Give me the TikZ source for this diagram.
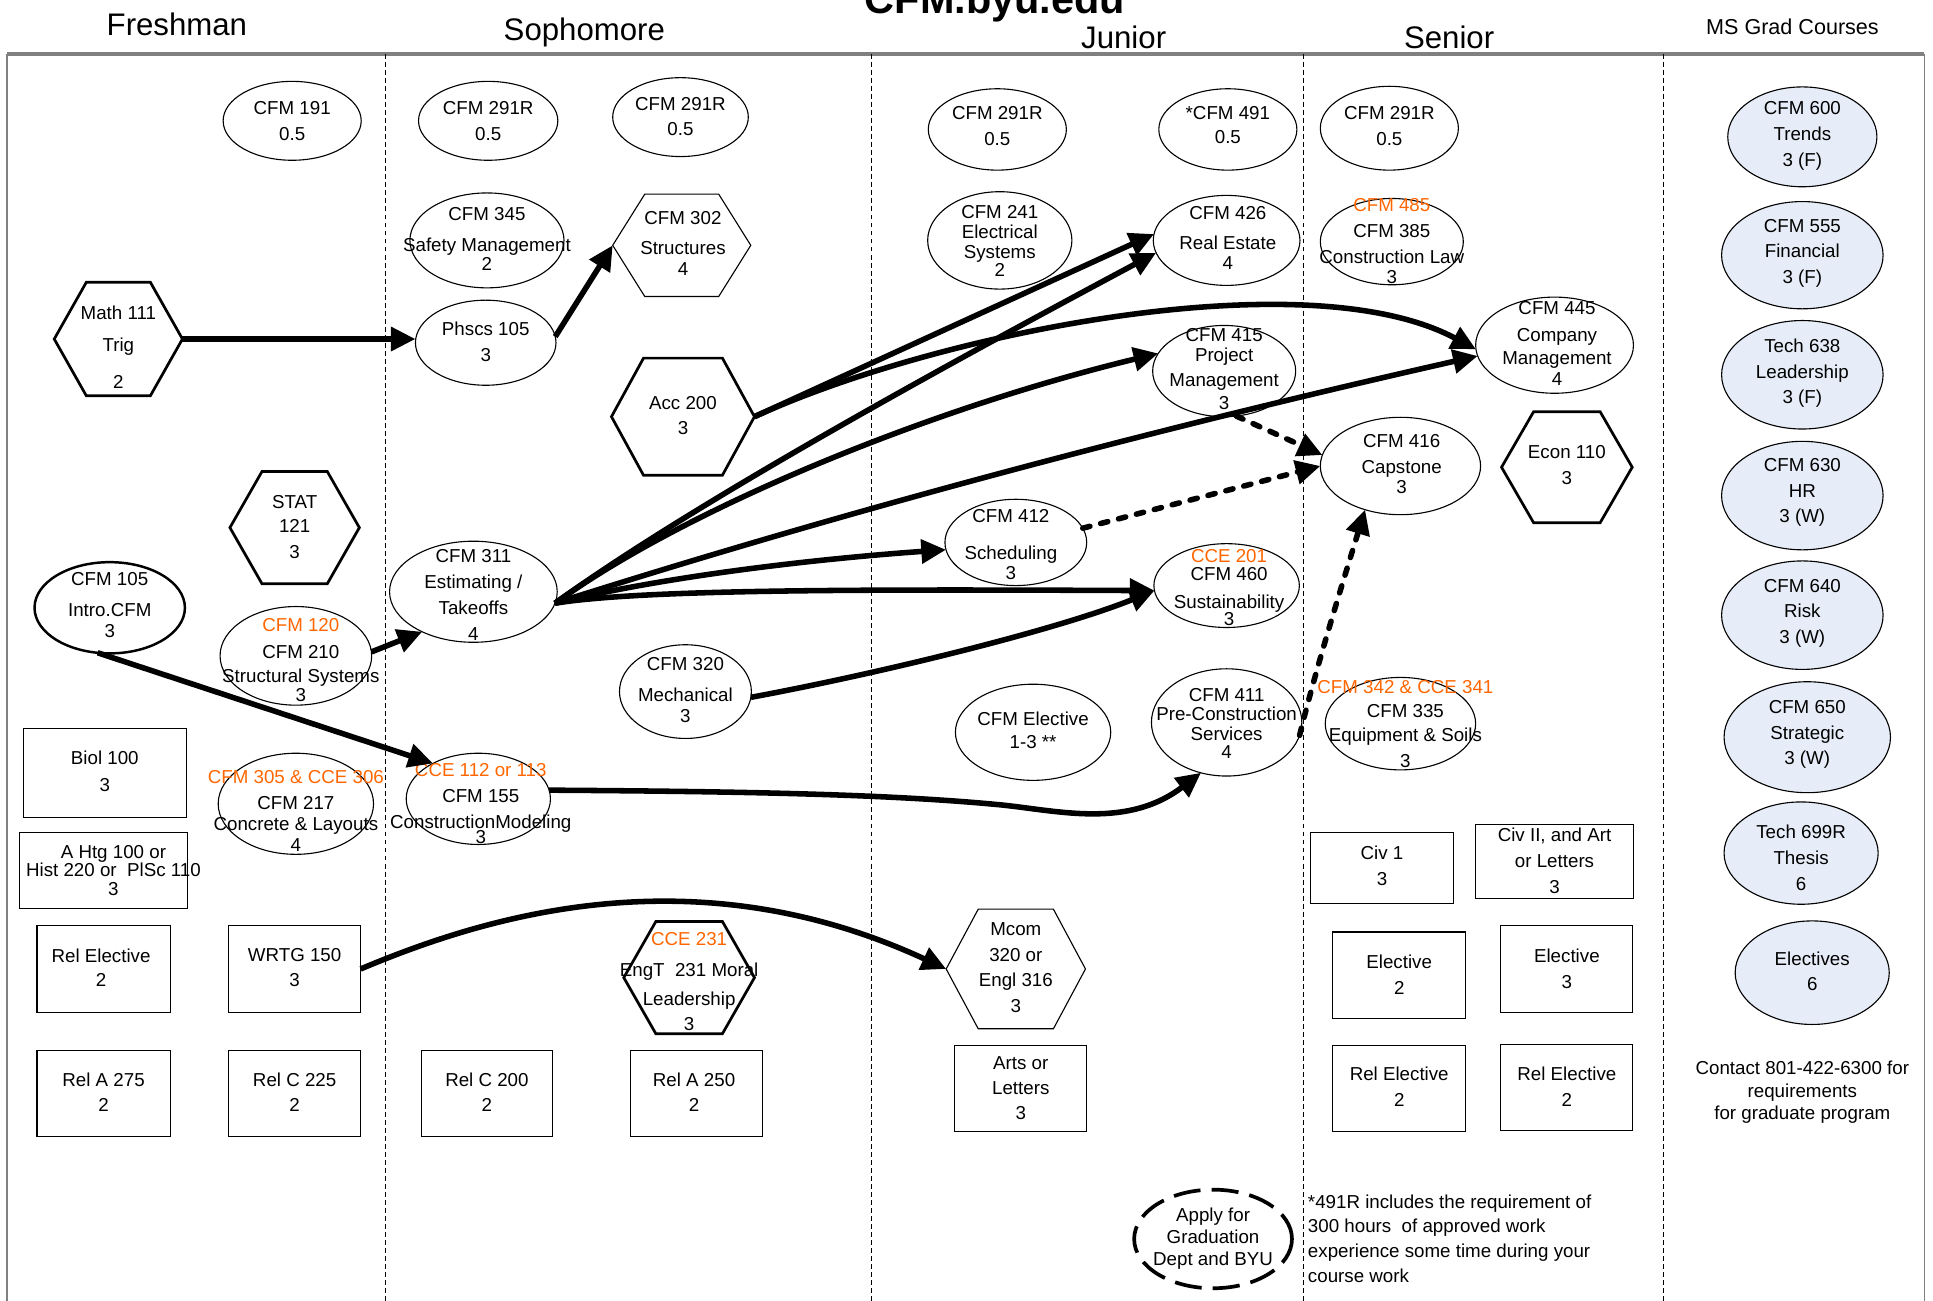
\documentclass[tikz,border=0pt]{standalone}
\usepackage{fontspec}
\setmainfont{Liberation Sans}
\usetikzlibrary{shapes.geometric,arrows.meta}
\definecolor{orng}{RGB}{255,102,0}
\definecolor{gradblue}{RGB}{231,237,248}
\definecolor{framegray}{RGB}{128,128,128}
\newcommand\orn[1]{\textcolor{orng}{#1}}
\newcommand\crsnode[8]{%
  \node[#1,minimum width=#5pt,minimum height=#6pt] (#2) at (#3,#4) {};
  \node[txt] (#2-t) at (#7) {#8};}
\newcommand\hexnode[8]{%
  \node[minimum width=#5pt,minimum height=#6pt] (#2) at (#3,#4) {};
  \draw[#1] (#2.west) -- ([xshift=26pt]#2.north west) -- ([xshift=-26pt]#2.north east) -- (#2.east) -- ([xshift=-26pt]#2.south east) -- ([xshift=26pt]#2.south west) -- cycle;
  \node[txt] (#2-t) at (#7) {#8};}
\tikzset{
  every node/.style={font=\fontsize{15.2}{20}\selectfont, inner sep=0pt, outer sep=0pt},
  txt/.style={align=center},
  ell/.style={ellipse, draw, line width=0.9pt},
  ellthick/.style={ellipse, draw, line width=2pt},
  elldash/.style={ellipse, draw, line width=3pt, dash pattern=on 22pt off 9pt},
  box/.style={rectangle, draw, line width=0.9pt},
  grad/.style={ellipse, draw, line width=0.9pt, fill=gradblue},
  hexthick/.style={line width=2.2pt, line join=miter},
  hexthin/.style={line width=0.9pt},
  hdr/.style={font=\fontsize{25.3}{30}\selectfont},
  arr/.style={line width=4.5pt, -{Triangle[length=20pt,width=19pt]}},
  darr/.style={line width=4.5pt, dash pattern=on 6pt off 9pt, line cap=round, -{Triangle[length=20pt,width=19pt]}},
  colsep/.style={line width=0.8pt, dash pattern=on 4pt off 2.5pt},
}
\begin{document}
\begin{tikzpicture}[x=1pt,y=-1pt]
\useasboundingbox (0,0) rectangle (1568,1055);
\clip (0,0) rectangle (1568,1055);
% title and headers
\node[font=\fontsize{33.6}{40}\selectfont\bfseries, anchor=base] (title) at (807,10.8) {CFM.byu.edu};
\node[hdr, anchor=base] (hfr) at (143.5,29) {Freshman};
\node[hdr, anchor=base] (hso) at (474,33) {Sophomore};
\node[hdr, anchor=base] (hju) at (911.5,39) {Junior};
\node[hdr, anchor=base] (hse) at (1175.5,39) {Senior};
\node[font=\fontsize{17.5}{20}\selectfont, anchor=base] (hms) at (1454,28) {MS Grad Courses};
% frame and separators
\draw[framegray, line width=3pt] (6,44) -- (1561,44);
\draw[framegray, line width=1.5pt] (6,44) -- (6,1060);
\draw[framegray, line width=1.2pt] (1561,44) -- (1561,1060);
\foreach \xx in {313,707,1057,1349} \draw[colsep] (\xx,44) -- (\xx,1060);
% Freshman
\crsnode{ell}{f191}{237}{98}{112}{64}{237,98}{CFM 191\\[1pt]0.5}
\hexnode{hexthick}{math}{96}{275}{104}{92}{96,282}{Math 111\\[6pt]Trig\\[10pt]2}
\hexnode{hexthick}{stat}{239}{428}{105}{91}{239,427.5}{STAT\\121\\[1pt]3}
\crsnode{ellthick}{c105}{89}{493}{122}{74}{89,491}{CFM 105\\[5pt]Intro.CFM\\[-3pt]3}
\crsnode{ell}{c210}{240}{532}{123}{80}{244,535.5}{\orn{CFM 120}\\[2pt]CFM 210\\[-1pt]Structural Systems\\[-4pt]3}
\crsnode{box}{biol}{85}{627}{132}{72}{85,626}{Biol 100\\[2pt]3}
\crsnode{ell}{c217}{240}{652}{126}{82}{240,657.5}{\orn{CFM 305 \& CCE 306}\\[1pt]CFM 217\\[-3pt]Concrete \& Layouts\\[-3pt]4}
\crsnode{box}{ahtg}{84}{706}{136}{62}{92,706}{A Htg 100 or\\[-5pt]Hist 220 or\ \ PlSc 110\\[-5pt]3}
\crsnode{box}{relel1}{84}{786}{108}{71}{82,785}{Rel Elective\\2}
\crsnode{box}{wrtg}{239}{786}{107}{71}{239,785}{WRTG 150\\3}
\crsnode{box}{rela275}{84}{887}{108}{70}{84,886}{Rel A 275\\2}
\crsnode{box}{relc225}{239}{887}{107}{70}{239,886}{Rel C 225\\2}
% Sophomore
\crsnode{ell}{s291a}{396}{98}{113}{64}{396,98}{CFM 291R\\[1pt]0.5}
\crsnode{ell}{s291b}{552}{95}{110}{64}{552,94.5}{CFM 291R\\[1pt]0.5}
\crsnode{ell}{c345}{395}{195}{125}{77}{395,194}{CFM 345\\[5pt]Safety Management\\[-4pt]2}
\hexnode{hexthin}{c302}{553}{199}{112}{83}{554,197.5}{CFM 302\\[4pt]Structures\\[-3pt]4}
\crsnode{ell}{phscs}{394}{278}{114}{69}{394,277}{Phscs 105\\[1pt]3}
\hexnode{hexthick}{acc}{554}{338}{116}{95}{554,337}{Acc 200\\3}
\crsnode{ell}{c311}{384}{480}{136}{82}{384,482.5}{CFM 311\\[1pt]Estimating /\\[1pt]Takeoffs\\[1pt]4}
\crsnode{ell}{c320}{556}{561}{107}{76}{556,560}{CFM 320\\[5pt]Mechanical\\[-3pt]3}
\crsnode{ell}{c155}{388}{648}{117}{74}{390,652}{\orn{CCE 112 or 113}\\[1pt]CFM 155\\[1pt]ConstructionModeling\\[-8pt]3}
\hexnode{hexthick}{c231}{559}{793}{106}{91}{559,796.5}{\orn{CCE 231}\\[5pt]EngT\ \ 231 Moral\\[3pt]Leadership\\[1pt]3}
\crsnode{box}{relc200}{395}{887}{106}{70}{395,886}{Rel C 200\\2}
\crsnode{box}{rela250}{565}{887}{107}{70}{563,886}{Rel A 250\\2}
% Junior
\crsnode{ell}{j291}{809}{105}{112}{66}{809,102.5}{CFM 291R\\[1pt]0.5}
\crsnode{ell}{c491}{996}{105}{112}{66}{996,101.5}{*CFM 491\\[-1pt]0.5}
\crsnode{ell}{c241}{811}{195}{117}{79}{811,195.5}{CFM 241\\[-4pt]Electrical\\[-4pt]Systems\\[-5pt]2}
\crsnode{ell}{c426}{995}{195}{119}{73}{996,193}{CFM 426\\[4pt]Real Estate\\[-4pt]4}
\crsnode{ell}{c415}{993}{301}{116}{74}{993,299.5}{CFM 415\\[-4pt]Project\\[0pt]Management\\[-1pt]3}
\crsnode{ell}{c412}{824}{440}{115}{70}{820,442}{CFM 412\\[10pt]Scheduling\\[-4pt]3}
\crsnode{ell}{c460}{995}{475}{118}{68}{997,476.5}{\orn{CCE 201}\\[-5pt]CFM 460\\[2pt]Sustainability\\[-6pt]3}
\crsnode{ell}{elect}{838}{594}{126}{78}{838,592.5}{CFM Elective\\[-1pt]1-3 **}
\crsnode{ell}{c411}{995}{586}{122}{87}{995,587}{CFM 411\\[-5pt]Pre-Construction\\[-4pt]Services\\[-5pt]4}
\hexnode{hexthin}{mcom}{824}{786}{113}{97}{824,785}{Mcom\\[1pt]320 or\\[0pt]Engl 316\\[1pt]3}
\crsnode{box}{arts}{828}{883}{107}{70}{828,882.5}{Arts or\\[1pt]Letters\\[0pt]3}
\crsnode{elldash}{apply}{984}{1005}{128}{80}{984,1005}{Apply for\\[-2pt]Graduation\\[-2pt]Dept and BYU}
% Senior
\crsnode{ell}{sr291}{1127}{104}{112}{68}{1127,102.5}{CFM 291R\\[1pt]0.5}
\crsnode{ell}{c385}{1129}{196}{116}{70}{1129,195.5}{\orn{CFM 485}\\[1pt]CFM 385\\[1pt]Construction Law\\[-4pt]3}
\crsnode{ell}{c445}{1261}{280}{128}{78}{1263,278.5}{CFM 445\\[2pt]Company\\[-2pt]Management\\[-3pt]4}
\crsnode{ell}{c416}{1136}{378}{130}{79}{1137,376.5}{CFM 416\\[1pt]Capstone\\[-4pt]3}
\hexnode{hexthick}{econ}{1271}{379}{106}{90}{1271,377.5}{Econ 110\\[1pt]3}
\crsnode{ell}{c335}{1136}{587}{122}{75}{1140,587}{\orn{CFM 342 \& CCE 341}\\[0pt]CFM 335\\[-1pt]Equipment \& Soils\\[1pt]3}
\crsnode{box}{civ1}{1121}{704}{116}{58}{1121,702.5}{Civ 1\\[1pt]3}
\crsnode{box}{civ2}{1261}{699}{128}{60}{1261,698}{Civ II, and Art\\[1pt]or Letters\\[1pt]3}
\crsnode{box}{el2}{1135}{791}{108}{70}{1135,790.5}{Elective\\[1pt]2}
\crsnode{box}{el3}{1271}{786}{107}{71}{1271,785.5}{Elective\\[1pt]3}
\crsnode{box}{rel2a}{1135}{883}{108}{70}{1135,881.5}{Rel Elective\\[1pt]2}
\crsnode{box}{rel2b}{1271}{882}{107}{70}{1271,881.5}{Rel Elective\\[1pt]2}
\node[align=left, anchor=north west] (note) at (1061,969) {*491R includes the requirement of\\300 hours\ \ of approved work\\experience some time during your\\course work};
% Grad
\crsnode{grad}{g600}{1462}{111}{121}{81}{1462,110}{CFM 600\\[1pt]Trends\\[1pt]3 (F)}
\crsnode{grad}{g555}{1462}{207}{131}{87}{1462,205.5}{CFM 555\\[0pt]Financial\\[1pt]3 (F)}
\crsnode{grad}{g638}{1462}{304}{131}{88}{1462,302.5}{Tech 638\\[1pt]Leadership\\[0pt]3 (F)}
\crsnode{grad}{g630}{1462}{402}{131}{88}{1462,399.5}{CFM 630\\[1pt]HR\\[0pt]3 (W)}
\crsnode{grad}{g640}{1462}{499}{131}{88}{1462,497.5}{CFM 640\\[0pt]Risk\\[1pt]3 (W)}
\crsnode{grad}{g650}{1466}{598}{135}{90}{1466,595.5}{CFM 650\\[1pt]Strategic\\[0pt]3 (W)}
\crsnode{grad}{g699}{1461}{692}{125}{83}{1461,696}{Tech 699R\\[1pt]Thesis\\[1pt]6}
\crsnode{grad}{gel}{1470}{789}{125}{84}{1470,788}{Electives\\[0pt]6}
\node[align=center] (contact) at (1462,886) {Contact 801-422-6300 for\\[-2pt]requirements\\[-2pt]for graduate program};
% connectors
\draw[arr] (math.east) -- (phscs.west |- math.east);
\draw[arr] (phscs.5) -- (c302.west);
\draw[arr] (c210.3) -- (c311.218);
\draw[arr] (c105.255) -- (c155.142);
\draw[arr] (acc.east) -- (c426.175);
\draw[arr] (acc.east) .. controls (760,270) and (1060,210) .. (c445.183);
\draw[arr] (c311.-8) .. controls (560,410) and (760,300) .. (c426.190);
\draw[arr] (c311.-8) .. controls (560,410) and (760,330) .. (c415.165);
\draw[arr] (c311.-8) .. controls (700,410) and (950,345) .. (c445.188);
\draw[arr] (c311.-8) .. controls (550,465) and (680,452) .. (c412.186);
\draw[arr] (c311.-8) .. controls (520,478) and (700,478) .. (c460.184);
\draw[arr] (c320.-5) .. controls (720,545) and (860,510) .. (c460.184);
\draw[arr] (c155.7) .. controls (600,642) and (720,644) .. (813,653) .. controls (860,658) and (915,672) .. (c411.243);
\draw[arr] (wrtg.east) .. controls (390,745) and (560,690) .. (mcom.west);
\draw[darr] (c415.-75) -- (c416.172);
\draw[darr] (c412.12) -- (c416.180);
\draw[darr] (c411.-10) .. controls (1068,540) and (1090,470) .. (c416.231);
\end{tikzpicture}
\end{document}
